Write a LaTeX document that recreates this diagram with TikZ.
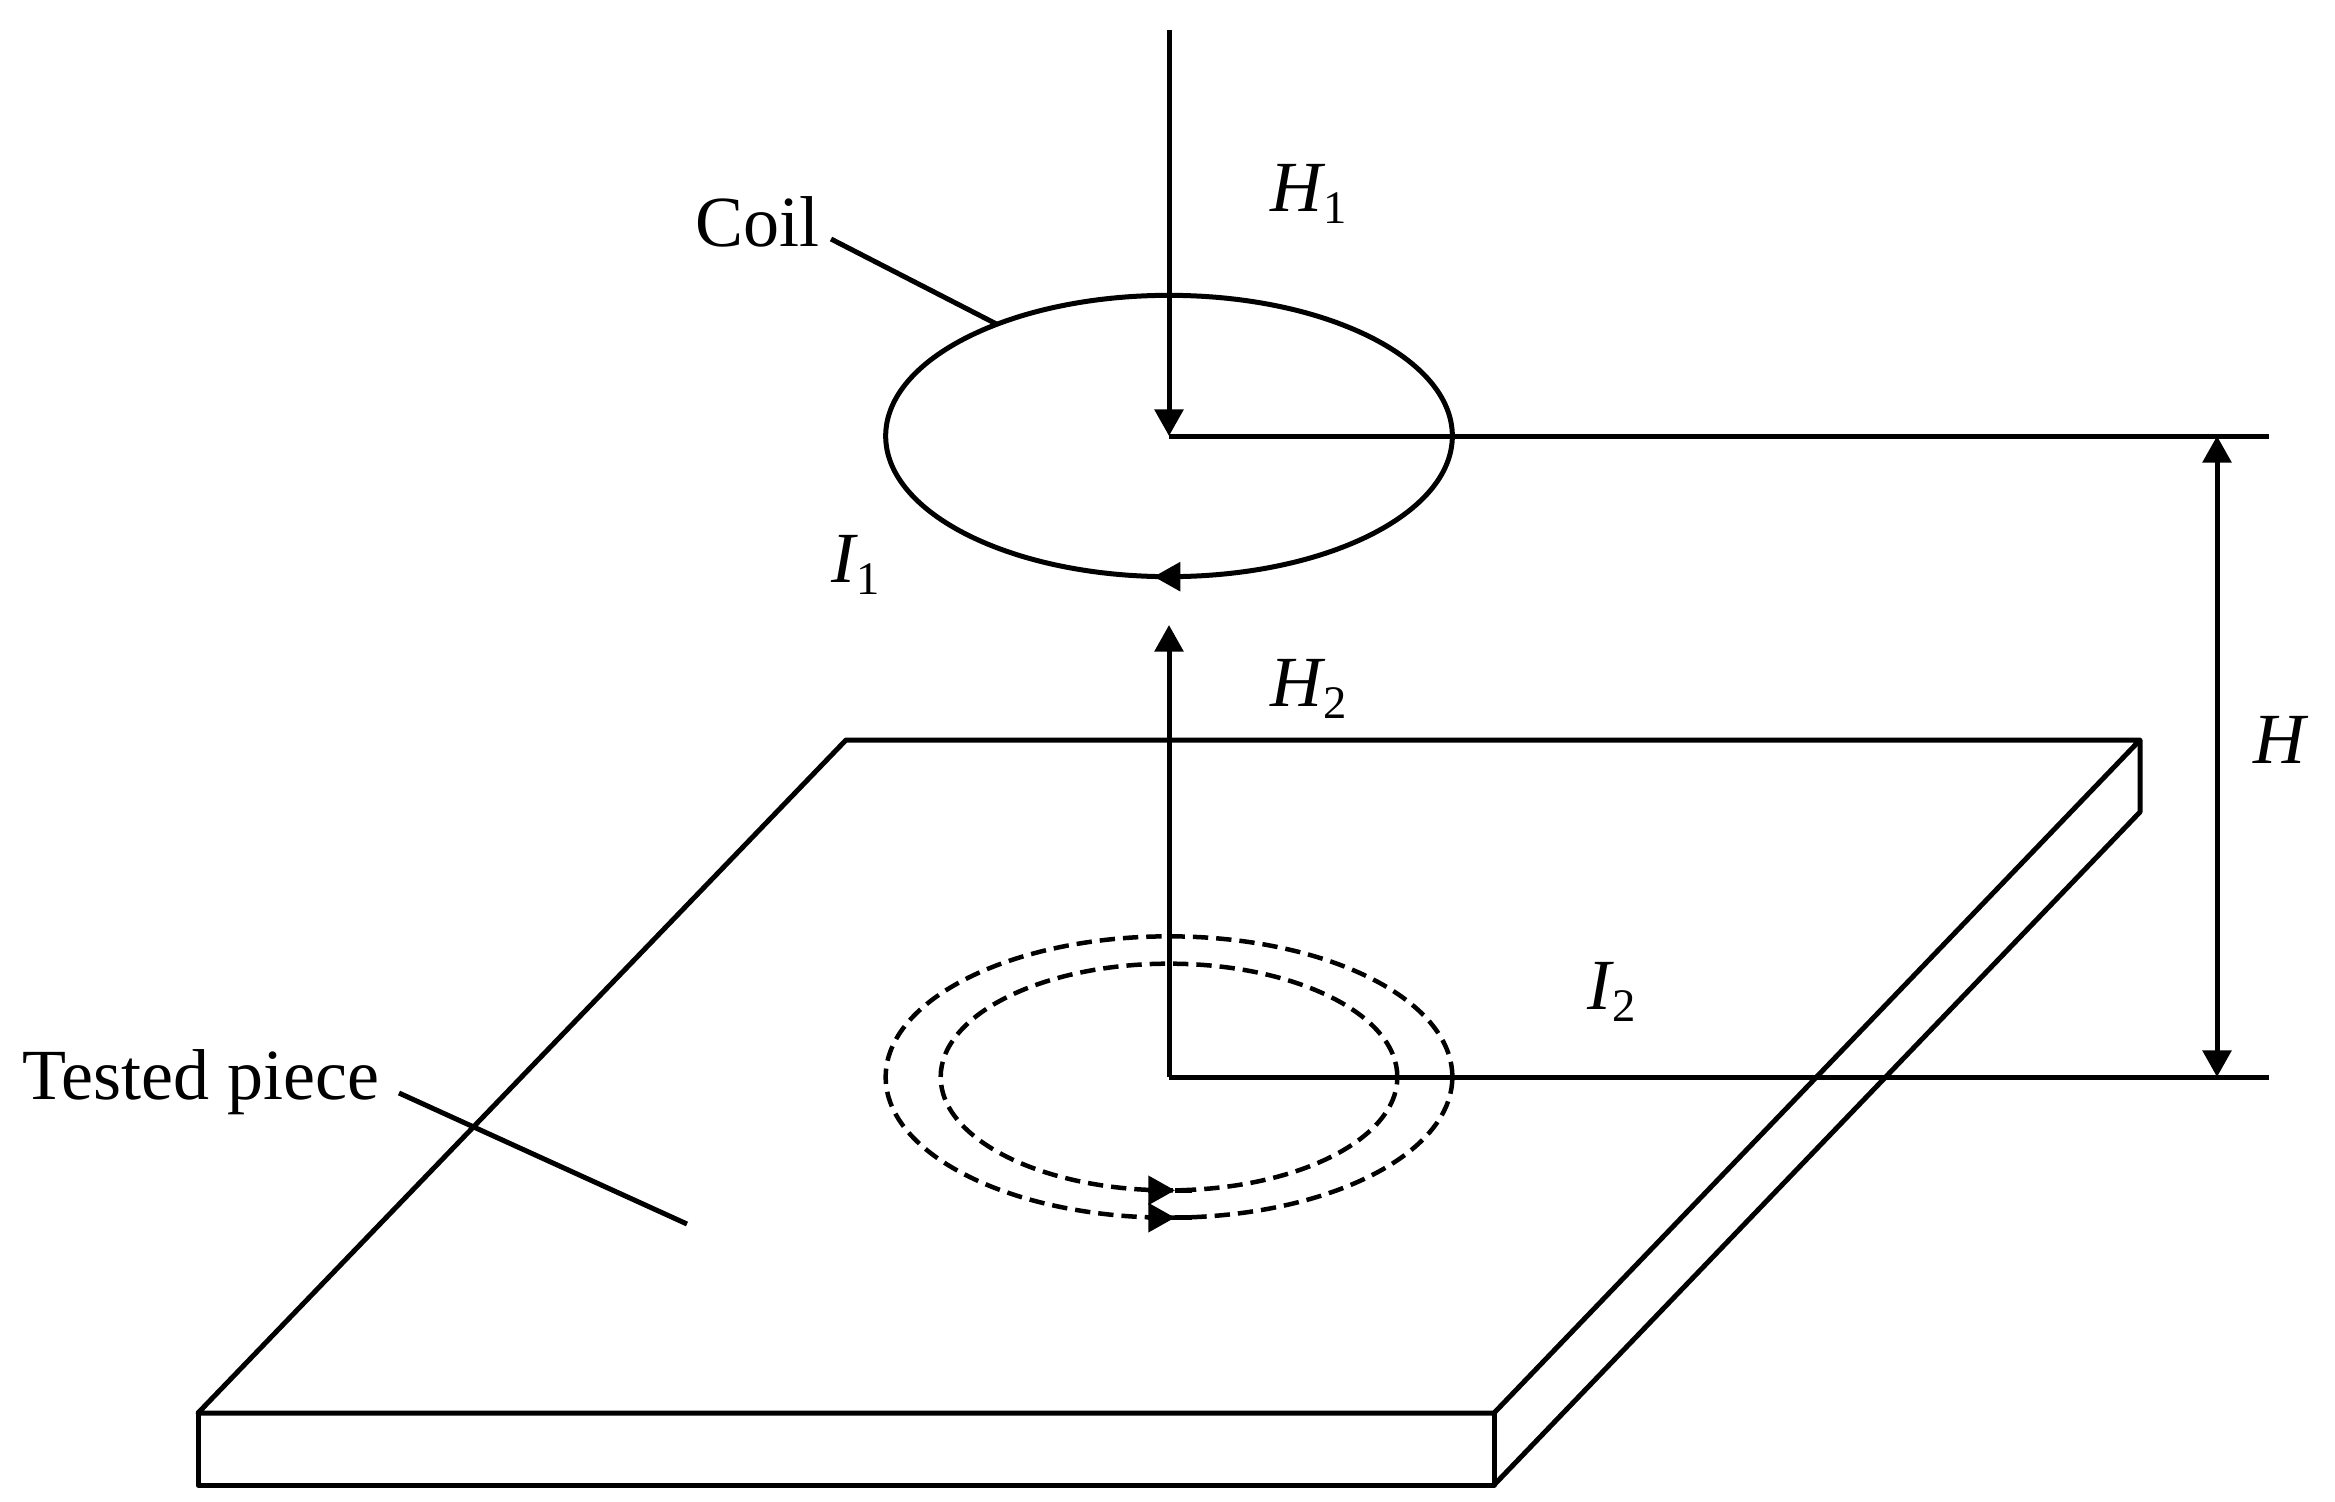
\documentclass[tikz,border=0pt]{standalone}
\usepackage{fontspec}
\setmainfont{Liberation Serif}
\usetikzlibrary{positioning}
\usetikzlibrary{arrows.meta}
\usetikzlibrary{shapes.geometric}
\newcommand{\varsub}[2]{\textit{#1}\kern-0.03em\raisebox{-0.17em}{\fontsize{14}{15}\selectfont #2}}
\tikzset{
  wire/.style={line width=1.5pt},
  arrowed/.style={wire, -{Triangle[length=8pt,width=8.5pt]}},
  twoway/.style={wire, {Triangle[length=8pt,width=8.5pt]}-{Triangle[length=8pt,width=8.5pt]}},
  loopline/.style={ellipse, draw, line width=1.5pt, inner sep=0pt, outer sep=0pt},
  eddy/.style={loopline, line width=1.35pt, dash pattern=on 4.6pt off 2.4pt},
  tag/.style={inner sep=0pt, font=\fontsize{21.6}{23}\selectfont}
}
\begin{document}
\begin{tikzpicture}[x=0.3pt,y=-0.3pt]
            \path[use as bounding box] (0,0) rectangle (2335,1502);
            % coil and tested piece centres
            \coordinate (CoilC) at (1169,436);
            \coordinate (EddyC) at (1169,1077);
            \coordinate (FieldTop) at (1169,30);
            \coordinate (FieldTip) at (1169,625);
            \coordinate (CoilEnd) at (2269,436);
            \coordinate (EddyEnd) at (2269,1077);
            \coordinate (DimTop) at (2217,436);
            \coordinate (DimBot) at (2217,1077);
            \node[loopline, minimum width=170pt, minimum height=84.4pt] (Coil) at (CoilC) {};
            \node[eddy, minimum width=170pt, minimum height=84.4pt] (EddyOut) at (EddyC) {};
            \node[eddy, minimum width=137pt, minimum height=68pt] (EddyIn) at (EddyC) {};
            % labels
            \node[tag, on grid, above right=67.5pt and 30.3pt of CoilC, anchor=base west] (H1) {\varsub{H}{1}};
            \node[tag, on grid, below left=43.8pt and 101.4pt of CoilC, anchor=base west] (I1) {\varsub{I}{1}};
            \node[tag, on grid, below right=81pt and 30.3pt of CoilC, anchor=base west] (H2) {\varsub{H}{2}};
            \node[tag, on grid, above right=20.4pt and 125.4pt of EddyC, anchor=base west] (I2) {\varsub{I}{2}};
            \node[tag, on grid, below right=98.1pt and 10.8pt of DimTop, anchor=base west] (H) {\textit{H}};
            \node[tag, on grid, above left=57pt and 142.2pt of CoilC, anchor=base west] (CoilTag) {Coil};
            \node[tag, on grid, below left=6.6pt and 344.1pt of EddyC, anchor=base west] (PieceTag) {Tested piece};
            % leaders
            \coordinate (CoilLead) at (831,239);
            \coordinate (PieceLead) at (399,1093);
            \coordinate (PieceEnd) at (687,1224);
            \draw[wire] (CoilLead) -- (Coil.147);
            \draw[wire] (PieceLead) -- (PieceEnd);
            % tested piece
            \coordinate (TopA) at (846,740);
            \coordinate (TopB) at (2140,740);
            \coordinate (TopC) at (1494,1413);
            \coordinate (TopD) at (198,1413);
            \coordinate (BotB) at (2140,812);
            \coordinate (BotC) at (1494,1485);
            \coordinate (BotD) at (198,1485);
            \draw[wire, line join=round] (TopD) -- (TopA) -- (TopB) -- (TopC) -- cycle;
            \draw[wire, line join=round] (TopD) -- (BotD) -- (BotC) -- (TopC);
            \draw[wire, line join=round] (TopB) -- (BotB) -- (BotC);
            % field lines and height
            \draw[arrowed] (FieldTop) -- (CoilC);
            \draw[arrowed] (EddyC) -- (FieldTip);
            \draw[wire] (CoilC) -- (CoilEnd);
            \draw[wire] (EddyC) -- (EddyEnd);
            \draw[twoway] (DimTop) -- (DimBot);
            % current directions
            \draw[arrowed] ([xshift=4.2pt]Coil.south) -- ([xshift=-4.6pt]Coil.south);
            \draw[arrowed] ([xshift=-6.4pt]EddyOut.south) -- ([xshift=1.8pt]EddyOut.south);
            \draw[arrowed] ([xshift=-6.4pt]EddyIn.south) -- ([xshift=1.8pt]EddyIn.south);
            \draw[wire] ([xshift=1.8pt]EddyOut.south) -- ([xshift=7pt]EddyOut.south);
            \draw[wire] ([xshift=1.8pt]EddyIn.south) -- ([xshift=7pt]EddyIn.south);
          \end{tikzpicture}
\end{document}
